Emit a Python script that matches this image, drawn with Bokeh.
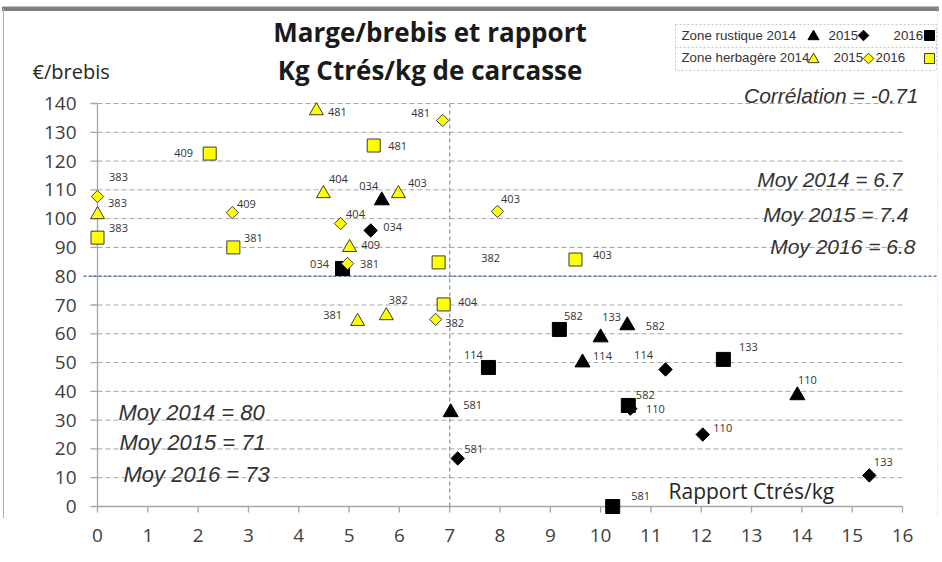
import numpy as np
from bokeh.plotting import figure
from bokeh.models import Range1d, FixedTicker, Label, ColumnDataSource
from bokeh.embed import file_html
from bokeh.resources import INLINE
from bokeh.core.properties import value

# ---------------- data ----------------
x_ticks = list(range(0, 17))
y_ticks = list(range(0, 141, 10))

# Zone rustique
rus14_x = [5.65, 7.02, 9.64, 10.00, 10.53, 13.91]
rus14_y = [106.3, 32.7, 50.0, 58.7, 62.9, 38.6]
rus14_lab = ["034", "581", "114", "133", "582", "110"]
rus15_x = [5.43, 7.16, 11.29, 10.59, 12.03, 15.34]
rus15_y = [95.9, 16.7, 47.6, 34.0, 25.0, 10.8]
rus15_lab = ["034", "581", "114", "110", "110", "133"]
rus16_x = [4.87, 7.77, 9.18, 10.55, 12.44, 10.24]
rus16_y = [82.7, 48.3, 61.5, 35.1, 51.1, 0.0]
rus16_lab = ["034", "114", "582", "582", "133", "581"]
# Zone herbagère
her14_x = [4.35, 0.00, 4.49, 5.98, 5.01, 5.17, 5.74]
her14_y = [137.5, 101.4, 108.7, 108.7, 90.0, 64.3, 66.3]
her14_lab = ["481", "383", "404", "403", "409", "381", "382"]
her15_x = [0.00, 2.68, 6.86, 7.95, 4.83, 4.97, 6.72]
her15_y = [107.7, 102.1, 134.1, 102.5, 98.3, 84.4, 65.0]
her15_lab = ["383", "409", "481", "403", "404", "381", "382"]
her16_x = [2.23, 0.00, 2.70, 5.49, 6.78, 9.50, 6.88]
her16_y = [122.6, 93.4, 90.0, 125.4, 84.8, 85.8, 70.2]
her16_lab = ["409", "383", "381", "481", "382", "403", "404"]

mean_x = 7.0    # rapport moyen
mean_y = 80.0   # marge moyenne

# ---------------- label offsets (style, screen px) ----------------
rus14_off = [(-13, -15), (22, -7), (20, -7), (11, -21), (28, 1), (10, -15)]
rus15_off = [(22, -3), (16, -9), (-22, -14), (25, 0), (20, -7), (14, -13)]
rus16_off = [(-23, -4), (-15, -12), (14, -13), (17, -10), (25, -12), (28, -11)]
her14_off = [(21, 1), (20, -12), (15, -15), (19, -11), (21, -2), (-25, -6), (12, -16)]
her15_off = [(21, -19), (14, -9), (-22, -7), (13, -12), (15, -10), (22, 0), (19, 4)]
her16_off = [(-26, -1), (21, -10), (20, -9), (24, 0), (52, -4), (27, -5), (24, -2)]

# ---------------- geometry ----------------
FIG_W, FIG_H = 940, 560
FRAME_B = 518            # bottom of the plotting frame (px from top)
PX_X0, PX_X16 = 97, 902
PX_Y0, PX_Y140 = 506, 103
sx = (PX_X16 - PX_X0) / 16.0
sy = (PX_Y0 - PX_Y140) / 140.0


def dx(px):
    return (px - PX_X0) / sx


def dy(py):
    return (PX_Y0 - py) / sy


p = figure(width=FIG_W, height=FIG_H, output_backend="svg", toolbar_location=None,
           x_range=Range1d(dx(0), dx(FIG_W)),
           y_range=Range1d(dy(FRAME_B), dy(0)),
           y_axis_location=None,
           min_border_left=0, min_border_right=0, min_border_top=0,
           min_border_bottom=FIG_H - FRAME_B)
p.outline_line_color = None
p.xgrid.visible = False
p.ygrid.visible = False
p.background_fill_color = "white"
p.border_fill_color = "white"

NUM_FONT = "Open Sans"
p.xaxis.ticker = FixedTicker(ticks=x_ticks)
p.xaxis.axis_line_color = None
p.xaxis.major_tick_line_color = None
p.xaxis.minor_tick_line_color = None
p.xaxis.major_label_text_font = NUM_FONT
p.xaxis.major_label_text_font_size = "19px"
p.xaxis.major_label_text_color = "#404040"
p.xaxis.major_label_standoff = 4

# y tick labels placed through the y scale
ysrc = ColumnDataSource(dict(y=y_ticks, x=[dx(76)] * len(y_ticks), t=[str(v) for v in y_ticks]))
p.text("x", "y", text="t", source=ysrc, text_align="right", text_baseline="middle",
       text_font=value(NUM_FONT), text_font_size="19px", text_color="#404040")

GRID_C = "#a6a6a6"
gy = [t for t in y_ticks if t > 0]
p.segment(x0=[0] * len(gy), y0=gy, x1=[x_ticks[-1]] * len(gy), y1=gy,
          line_color=GRID_C, line_dash="5 3", line_width=1)
p.segment(x0=[0, 0], y0=[0, 0], x1=[x_ticks[-1], 0], y1=[0, y_ticks[-1]],
          line_color=GRID_C, line_width=1.3)
p.segment(x0=x_ticks, y0=[0] * len(x_ticks), x1=x_ticks, y1=[-6 / sy] * len(x_ticks),
          line_color=GRID_C, line_width=1.3)
p.segment(x0=[-7 / sx] * len(y_ticks), y0=y_ticks, x1=[0] * len(y_ticks), y1=y_ticks,
          line_color=GRID_C, line_width=1.3)

# mean lines
p.segment(x0=[mean_x], y0=[0], x1=[mean_x], y1=[y_ticks[-1]],
          line_color="#7896c8", line_dash="4 3", line_width=1.2)
p.segment(x0=[dx(83)], y0=[mean_y], x1=[dx(936)], y1=[mean_y],
          line_color="#5d7aa8", line_dash="3 2", line_width=1.6)

# chart border
p.quad(left=[dx(2)], right=[dx(938)], top=[dy(6.5)], bottom=[dy(10)],
       fill_color="#808080", line_color="#808080", line_width=1)
p.segment(x0=[dx(3)], y0=[dy(8)], x1=[dx(3)], y1=[dy(FRAME_B)], line_color="#b0b0b0", line_width=1)
p.segment(x0=[dx(937)], y0=[dy(8)], x1=[dx(937)], y1=[dy(FRAME_B)], line_color="#d0d0d0",
          line_width=1, line_dash="1 2")

YEL = "#ffff00"
OUT = "#3a3a3a"
groups = [
    (rus14_x, rus14_y, rus14_lab, rus14_off, dict(marker="triangle", size=15, fill_color="black", line_color="black", angle=0)),
    (rus15_x, rus15_y, rus15_lab, rus15_off, dict(marker="square", size=9.5, fill_color="black", line_color="black", angle=np.pi / 4)),
    (rus16_x, rus16_y, rus16_lab, rus16_off, dict(marker="square", size=14, fill_color="black", line_color="black", angle=0)),
    (her14_x, her14_y, her14_lab, her14_off, dict(marker="triangle", size=14, fill_color=YEL, line_color=OUT, angle=0)),
    (her15_x, her15_y, her15_lab, her15_off, dict(marker="square", size=8.7, fill_color=YEL, line_color=OUT, angle=np.pi / 4)),
    (her16_x, her16_y, her16_lab, her16_off, dict(marker="square", size=13, fill_color=YEL, line_color=OUT, angle=0)),
]
for xs, ys, labs, offs, st in groups:
    src = ColumnDataSource(dict(x=xs, y=ys, lab=labs,
                                ox=[o[0] for o in offs], oy=[o[1] for o in offs]))
    p.scatter("x", "y", source=src, marker=st["marker"], size=st["size"],
              fill_color=st["fill_color"], line_color=st["line_color"], line_width=1,
              angle=st["angle"])
    p.text("x", "y", text="lab", source=src, x_offset="ox", y_offset="oy",
           text_align="center", text_baseline="middle", text_font=value("Open Sans"),
           text_font_size="11px", text_color="#333333")


def add_label(px, py, text, size, font="Open Sans", style="normal", align="left", color="#262626"):
    p.add_layout(Label(x=dx(px), y=dy(py), text=text, text_align=align,
                       text_baseline="middle", text_font=font,
                       text_font_size=size, text_font_style=style, text_color=color))


# title (y = vertical centre of the capitals)
add_label(429.5, 31, "Marge/brebis et rapport", "26px", style="bold", align="center", color="#1a1a1a")
add_label(429.5, 69, "Kg Ctrés/kg de carcasse", "26px", style="bold", align="center", color="#1a1a1a")
add_label(32, 71, "€/brebis", "20px", color="#262626")
add_label(668, 490.5, "Rapport Ctrés/kg", "21px", color="#262626")

IT = "Liberation Sans"
ITC = "#333333"
add_label(918, 94.5, "Corrélation = -0.71", "21px", font=IT, style="italic", align="right", color=ITC)
add_label(902, 178.5, "Moy 2014 = 6.7", "21px", font=IT, style="italic", align="right", color=ITC)
add_label(908, 213.5, "Moy 2015 = 7.4", "21px", font=IT, style="italic", align="right", color=ITC)
add_label(915, 245.5, "Moy 2016 = 6.8", "21px", font=IT, style="italic", align="right", color=ITC)
add_label(118, 411.5, "Moy 2014 = 80", "22px", font=IT, style="italic", align="left", color=ITC)
add_label(119, 441.5, "Moy 2015 = 71", "22px", font=IT, style="italic", align="left", color=ITC)
add_label(123, 473.5, "Moy 2016 = 73", "22px", font=IT, style="italic", align="left", color=ITC)

# legend box
LG = "Liberation Sans"
LGC = "#333333"
LGS = "13.3px"
p.quad(left=[dx(675)], right=[dx(936)], top=[dy(24)], bottom=[dy(70)],
       fill_color="white", line_color="#c8c8c8", line_dash="2 2", line_width=1)
p.segment(x0=[dx(675)], y0=[dy(47)], x1=[dx(936)], y1=[dy(47)],
          line_color="#c8c8c8", line_dash="2 2", line_width=1)
add_label(681, 34.5, "Zone rustique  2014", LGS, font=LG, color=LGC)
add_label(828, 34.5, "2015", LGS, font=LG, color=LGC)
add_label(893, 34.5, "2016", LGS, font=LG, color=LGC)
add_label(681, 57, "Zone herbagère 2014", LGS, font=LG, color=LGC)
add_label(833, 57, "2015", LGS, font=LG, color=LGC)
add_label(875, 57, "2016", LGS, font=LG, color=LGC)
p.scatter(x=[dx(813)], y=[dy(36)], marker="triangle", size=11, fill_color="black", line_color="black")
p.scatter(x=[dx(863)], y=[dy(35)], marker="square", size=7.5, angle=np.pi / 4, fill_color="black", line_color="black")
p.scatter(x=[dx(929)], y=[dy(35)], marker="square", size=10, fill_color="black", line_color="black")
p.scatter(x=[dx(813)], y=[dy(59)], marker="triangle", size=11, fill_color=YEL, line_color=OUT)
p.scatter(x=[dx(868)], y=[dy(58)], marker="square", size=7.5, angle=np.pi / 4, fill_color=YEL, line_color=OUT)
p.scatter(x=[dx(929)], y=[dy(58)], marker="square", size=10, fill_color=YEL, line_color=OUT)

open("out.html", "w").write(file_html(p, INLINE))
